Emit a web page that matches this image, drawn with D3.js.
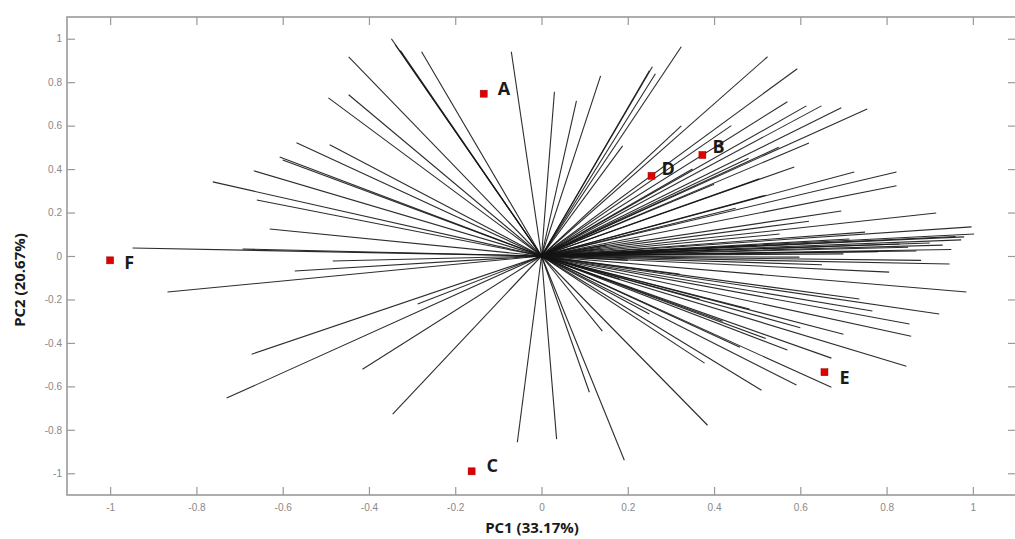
<!DOCTYPE html>
<html>
<head>
<meta charset="utf-8">
<script src="https://cdn.jsdelivr.net/npm/d3@7"></script>
<style>
  body { margin: 0; background: #fff; }
  #chart { width: 1015px; height: 539px; }
</style>
</head>
<body>
<div id="chart"></div>
<script>
// Variable loadings (PC1, PC2), one line each from the origin
const loadPC1 = [
  -0.070, -0.348, -0.339, -0.327, -0.278, -0.447, -0.447, -0.494, -0.491, -0.568,
  -0.607, -0.600, -0.667, -0.762, -0.660, -0.630, -0.693, -0.948,
  -0.484, -0.572, -0.867, -0.287, -0.672, -0.730, -0.415, -0.345, -0.056,
  0.035, 0.111, 0.141, 0.192, 0.385, 0.378, 0.510, 0.591, 0.672, 0.570,
  0.672, 0.846, 0.857, 0.853, 0.922, 0.985, 0.806, 0.946, 0.767, 0.737,
  0.46, 0.52, 0.60, 0.42, 0.70,
  0.227, 0.134, 0.32, 0.181, 0.366, 0.482, 0.25,
  0.030, 0.081, 0.137, 0.250, 0.257, 0.264, 0.324, 0.188, 0.324, 0.524,
  0.593, 0.570, 0.614, 0.649, 0.695, 0.755, 0.505, 0.586, 0.725, 0.823,
  0.823, 0.695, 0.915, 0.997, 0.973, 0.869,
  1.003, 0.980, 0.830, 0.714, 0.552, 0.41, 0.598, 0.93, 0.78, 0.62,
  0.45, 0.52, 0.40, 0.55, 0.48, 0.62, 0.35, 0.44,
  0.90, 0.85, 0.95, 0.70, 0.88, 0.65, 0.96, 0.75, 0.50, 0.30, 0.20, 0.15
];
const loadPC2 = [
  0.940, 1.000, 0.972, 0.945, 0.940, 0.917, 0.742, 0.728, 0.512, 0.521,
  0.456, 0.442, 0.392, 0.341, 0.258, 0.124, 0.032, 0.037,
  -0.023, -0.069, -0.166, -0.221, -0.452, -0.654, -0.521, -0.728, -0.857,
  -0.843, -0.627, -0.346, -0.940, -0.779, -0.493, -0.618, -0.594, -0.604, -0.433,
  -0.470, -0.507, -0.369, -0.313, -0.267, -0.166, -0.074, -0.037, -0.253, -0.198,
  -0.42, -0.38, -0.33, -0.30, -0.36,
  0.078, 0.032, -0.083, -0.106, -0.198, -0.244, -0.267,
  0.756, 0.714, 0.829, 0.853, 0.871, 0.839, 0.963, 0.507, 0.599, 0.917,
  0.862, 0.710, 0.691, 0.691, 0.682, 0.677, 0.355, 0.410, 0.387, 0.387,
  0.323, 0.207, 0.198, 0.134, 0.074, 0.023,
  0.101, 0.088, 0.055, 0.078, 0.101, 0.03, -0.005, 0.05, 0.02, 0.16,
  0.22, 0.28, 0.33, 0.50, 0.45, 0.52, 0.40, 0.60,
  0.06, 0.04, 0.03, 0.01, -0.02, -0.04, 0.09, 0.11, 0.05, 0.02, -0.02, 0.05
];

// Sample scores
const sampleNames = ["A", "B", "C", "D", "E", "F"];
const samplePC1 = [-0.134, 0.373, -0.162, 0.255, 0.656, -1.0];
const samplePC2 = [0.747, 0.465, -0.991, 0.369, -0.535, -0.02];

// Tick values
const xTicks = [-1, -0.8, -0.6, -0.4, -0.2, 0, 0.2, 0.4, 0.6, 0.8, 1];
const yTicks = [-1, -0.8, -0.6, -0.4, -0.2, 0, 0.2, 0.4, 0.6, 0.8, 1];

const xTitle = "PC1 (33.17%)";
const yTitle = "PC2 (20.67%)";

// label placement next to each red marker (dx, dy in px)
const labelShift = {
  A: [14, 1], B: [10, -2], C: [15, 1], D: [10, -1], E: [15, 12], F: [14, 9]
};

const margin = { top: 17, right: -1, bottom: 44, left: 67 };
const width = 1015 - margin.left - margin.right;
const height = 539 - margin.top - margin.bottom;

const x = d3.scaleLinear().domain([-1.1, 1.1]).range([0, width]);
const y = d3.scaleLinear().domain([-1.1, 1.1]).range([height, 0]);

const svg = d3.select("#chart")
  .append("svg")
    .attr("width", 1015)
    .attr("height", 539)
  .append("g")
    .attr("transform", `translate(${margin.left},${margin.top})`);

// loading lines
const loadings = loadPC1.map((v, i) => ({ pc1: v, pc2: loadPC2[i] }));
svg.append("g")
  .selectAll("line")
  .data(loadings)
  .join("line")
    .attr("x1", x(0))
    .attr("y1", y(0))
    .attr("x2", d => x(d.pc1))
    .attr("y2", d => y(d.pc2))
    .attr("stroke", "#151515")
    .attr("stroke-opacity", 0.9)
    .attr("stroke-width", 1.1);

// axes, ticks drawn inside the box (matlab style)
const fmt = d => String(d);
const styleAxis = g => {
  g.select(".domain").remove();
  g.selectAll(".tick line").attr("stroke", "#999").attr("stroke-width", 1.2);
  g.selectAll(".tick text")
    .attr("fill", "#888")
    .style("font-family", "Liberation Sans, Arial, sans-serif")
    .style("font-size", "10px");
};

svg.append("g")
  .attr("transform", `translate(0,${height})`)
  .call(d3.axisBottom(x).tickValues(xTicks).tickSize(-8).tickPadding(9).tickFormat(fmt))
  .call(styleAxis);

svg.append("g")
  .call(d3.axisLeft(y).tickValues(yTicks).tickSize(-8).tickPadding(5).tickFormat(fmt))
  .call(styleAxis);

svg.append("g")
  .call(d3.axisTop(x).tickValues(xTicks).tickSize(-8).tickFormat(""))
  .call(styleAxis);

svg.append("g")
  .attr("transform", `translate(${width},0)`)
  .call(d3.axisRight(y).tickValues(yTicks).tickSize(-8).tickFormat(""))
  .call(styleAxis);

// frame
svg.append("rect")
  .attr("width", width)
  .attr("height", height)
  .attr("fill", "none")
  .attr("stroke", "#9a9a9a")
  .attr("stroke-width", 1.6);

// sample markers
const samples = sampleNames.map((n, i) => ({ name: n, pc1: samplePC1[i], pc2: samplePC2[i] }));
svg.append("g")
  .selectAll("rect")
  .data(samples)
  .join("rect")
    .attr("x", d => x(d.pc1) - 3.5)
    .attr("y", d => y(d.pc2) - 3.5)
    .attr("width", 7)
    .attr("height", 7)
    .attr("fill", "#e00000")
    .attr("stroke", "#900")
    .attr("stroke-width", 0.5);

svg.append("g")
  .selectAll("text")
  .data(samples)
  .join("text")
    .attr("x", d => x(d.pc1) + labelShift[d.name][0])
    .attr("y", d => y(d.pc2) + labelShift[d.name][1])
    .attr("fill", "#1a1a1a")
    .style("font-family", "Open Sans, sans-serif")
    .style("font-weight", "bold")
    .style("font-size", "18px")
    .text(d => d.name);

// axis titles
svg.append("text")
  .attr("x", 465)
  .attr("y", height + 38)
  .attr("text-anchor", "middle")
  .attr("fill", "#1a1a1a")
  .style("font-family", "Open Sans, sans-serif")
  .style("font-weight", "bold")
  .style("font-size", "15px")
  .text(xTitle);

svg.append("text")
  .attr("transform", `translate(${-42},${263}) rotate(-90)`)
  .attr("text-anchor", "middle")
  .attr("fill", "#1a1a1a")
  .style("font-family", "Open Sans, sans-serif")
  .style("font-weight", "bold")
  .style("font-size", "15px")
  .text(yTitle);
</script>
</body>
</html>
